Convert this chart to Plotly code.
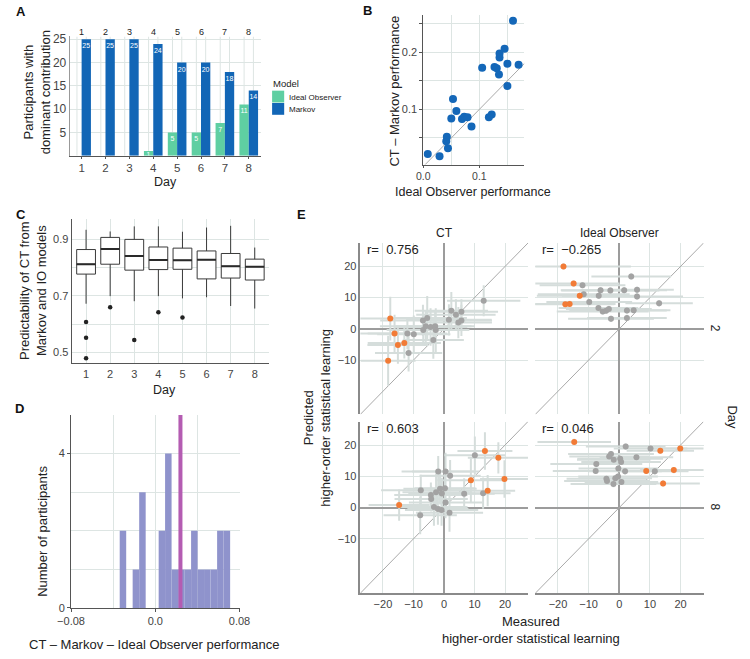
import plotly.graph_objects as go

W, H = 750, 659
FONT = "Liberation Sans, Arial, Helvetica, sans-serif"
GRID = "#dde5e3"
TXT = "#222222"
TICK = "#444444"

# ---------------- Panel A ----------------
days = [1, 2, 3, 4, 5, 6, 7, 8]
io_counts = [0, 0, 0, 1, 5, 5, 7, 11]
markov_counts = [25, 25, 25, 24, 20, 20, 18, 14]
model_names = ["Ideal Observer", "Markov"]
COL_IO = "#5fcfa2"
COL_MK = "#1266b6"

# ---------------- Panel B ----------------
b_io_perf = [0.008, 0.029, 0.044, 0.041, 0.042, 0.053, 0.050, 0.059, 0.069, 0.073,
             0.079, 0.086, 0.105, 0.117, 0.122, 0.127, 0.131, 0.135, 0.136, 0.136,
             0.145, 0.150, 0.150, 0.160, 0.170]
b_ct_markov = [0.022, 0.018, 0.032, 0.044, 0.052, 0.118, 0.084, 0.097, 0.083, 0.087,
               0.086, 0.070, 0.173, 0.086, 0.091, 0.174, 0.172, 0.161, 0.191, 0.198,
               0.206, 0.180, 0.141, 0.255, 0.178]
COL_B = "#1467b8"

# ---------------- Panel C ----------------
c_q1 = [0.777, 0.812, 0.791, 0.793, 0.794, 0.760, 0.763, 0.756]
c_median = [0.812, 0.866, 0.841, 0.827, 0.826, 0.828, 0.805, 0.803]
c_q3 = [0.864, 0.907, 0.900, 0.873, 0.869, 0.859, 0.850, 0.830]
c_lower = [0.672, 0.699, 0.681, 0.699, 0.691, 0.695, 0.664, 0.655]
c_upper = [0.934, 0.928, 0.946, 0.946, 0.927, 0.942, 0.948, 0.871]
c_out_day = [1, 1, 1, 2, 3, 4, 5]
c_out_val = [0.607, 0.552, 0.479, 0.660, 0.544, 0.642, 0.623]

# ---------------- Panel D ----------------
d_bin_centers = [-0.0307, -0.0184, -0.0122, 0.0063, 0.0124, 0.0186, 0.0248,
                 0.0309, 0.0371, 0.0433, 0.0494, 0.0556, 0.0618, 0.0680]
d_counts = [2, 1, 3, 2, 4, 1, 1, 1, 2, 1, 1, 1, 2, 2]
d_binwidth = 0.00617
d_mean = 0.0239
COL_D = "#8f93cc"
COL_MEAN = "#b45cb2"

# ---------------- Panel E ----------------
E_COLS = ["CT", "Ideal Observer"]
E_ROWS = ["2", "8"]
E_R = ["0.756", "\u22120.265", "0.603", "0.046"]
COL_ORANGE = "#f27b36"
COL_GRAY = "#a3a3a3"
COL_ERR = "#d5dddb"

tl_meas = [-17.6, -16.2, -15.1, -13.0, -18.3, -12.0, -9.9, -11.6, -6.9, -5.5, -6.8, -6.0,
           -4.4, -2.9, -2.7, -3.5, 1.6, 2.4, 3.9, 5.7, 4.7, 5.7, 13.0]
tl_pred = [3.3, -1.5, -5.2, -4.5, -10.2, -1.5, -1.7, -7.7, 2.7, 3.5, -0.4, 0.8,
           0.6, 0.8, -0.4, -3.6, 2.9, 5.8, 4.5, 5.5, 2.0, 2.7, 9.0]
tl_err_meas = [11, 12, 10, 12, 9, 13, 12, 11, 14, 13, 12, 15, 12, 13, 11, 10, 14, 12, 13, 12, 11, 10, 12]
tl_err_pred = [7, 6, 6, 5, 8, 5, 6, 6, 5, 7, 5, 5, 6, 5, 7, 6, 5, 6, 5, 4, 5, 5, 5]
tl_flag = [1, 1, 1, 1, 1] + [0] * 18

tr_meas = [-18.2, -14.9, -12.9, -17.6, -16.2, -12.0, -11.6, -6.1, -6.7, -2.9, 1.6, 3.9,
           5.8, 5.8, 13.0, -9.8, -6.8, -5.4, -4.3, -3.4, 2.5, 4.7, -2.7, 2.5]
tr_pred = [20.0, 14.5, 10.6, 7.9, 8.0, 14.0, 11.1, 12.4, 10.6, 12.3, 12.4, 16.8,
           12.5, 10.4, 8.2, 8.6, 6.7, 5.6, 5.8, 6.4, 5.9, 6.0, 3.2, 3.5]
tr_err_meas = [22, 15, 14, 16, 15, 14, 15, 13, 12, 16, 14, 13, 12, 15, 11, 14, 13, 15, 12, 14, 13, 12, 14, 13]
tr_err_pred = [1, 1, 1, 1, 1, 1, 1, 1, 1, 1, 1, 1, 1, 1, 1, 1, 1, 1, 1, 1, 1, 1, 1, 1]
tr_flag = [1, 1, 1, 1, 1] + [0] * 19

bl_meas = [-14.7, 13.4, 17.8, 8.8, 19.8, 14.3, 10.1, -1.9, 0.5, 2.0, -7.6, -4.3, -2.6,
           -1.3, 0.3, -0.7, -4.2, 6.6, 12.8, 0.5, -3.3, -2.0, -0.8, 1.8, -7.8]
bl_pred = [0.8, 18.1, 15.9, 8.7, 9.1, 5.4, 16.7, 11.5, 11.5, 10.2, 5.5, 4.0, 4.9,
           6.0, 6.2, 4.5, 2.7, 4.4, 4.6, 1.6, 0.2, -0.5, -0.8, -1.7, -2.5]
bl_err_meas = [10, 9, 10, 11, 8, 9, 10, 12, 11, 10, 13, 12, 11, 12, 10, 11, 12, 10, 9, 12, 11, 10, 12, 11, 12]
bl_err_pred = [5, 6, 5, 7, 6, 5, 6, 5, 6, 5, 5, 4, 6, 5, 6, 5, 4, 5, 5, 5, 6, 5, 5, 6, 6]
bl_flag = [1, 1, 1, 1, 1, 1] + [0] * 19

br_meas = [-14.7, 13.4, 19.9, 8.8, 17.8, 14.3, 2.1, 10.2, -2.7, -3.3, -1.8, 0.3, 0.6,
           5.6, -7.5, -0.3, -7.7, 1.9, 11.6, -4.2, -4.0, -1.3, -0.4, 0.7, -1.9]
br_pred = [21.0, 18.2, 18.9, 11.7, 12.0, 7.7, 19.5, 18.9, 17.1, 16.3, 15.3, 15.6, 14.6,
           16.1, 13.9, 12.5, 11.7, 11.6, 11.6, 9.2, 8.5, 9.4, 9.9, 8.2, 7.5]
br_err_meas = [12, 11, 10, 13, 11, 12, 13, 12, 14, 13, 12, 14, 13, 12, 15, 13, 14, 12, 11, 13, 14, 12, 13, 12, 14]
br_err_pred = [1, 1, 1, 1, 1, 1, 1, 1, 1, 1, 1, 1, 1, 1, 1, 1, 1, 1, 1, 1, 1, 1, 1, 1, 1]
br_flag = [1, 1, 1, 1, 1, 1] + [0] * 19

E_LIM = [-27.4, 27.5]


def px(x):
    return x / W


def py(y):
    return 1 - y / H


def dxr(a, b):
    return [a / W, b / W]


def dyr(top, bottom):
    return [1 - bottom / H, 1 - top / H]


def note(text, x, y, size=13, angle=0, xanchor="center", color=TXT, **kw):
    d = dict(x=px(x), y=py(y), xref="paper", yref="paper", text=text, showarrow=False,
             textangle=angle, xanchor=xanchor, yanchor="middle",
             font=dict(size=size, color=color))
    d.update(kw)
    return d


fig = go.Figure()
ann = []
shapes = []

# ================= Panel A =================
fig.add_trace(go.Bar(x=days, y=io_counts, width=0.39, offset=-0.39,
                     marker=dict(color=COL_IO, line=dict(width=0)),
                     text=[str(v) if v > 0 else "" for v in io_counts],
                     textposition="inside", insidetextanchor="end", constraintext="none",
                     textfont=dict(color="white", size=7), textangle=0,
                     name=model_names[0], xaxis="x", yaxis="y", showlegend=False))
fig.add_trace(go.Bar(x=days, y=markov_counts, width=0.39, offset=0.0,
                     marker=dict(color=COL_MK, line=dict(width=0)),
                     text=[str(v) for v in markov_counts],
                     textposition="inside", insidetextanchor="end", constraintext="none",
                     textfont=dict(color="white", size=7), textangle=0,
                     name=model_names[1], xaxis="x", yaxis="y", showlegend=False))
for d in days:
    for off in (-0.195, 0.195):
        shapes.append(dict(type="line", xref="x", yref="y", x0=d + off, x1=d + off,
                           y0=0, y1=25.6, line=dict(color=GRID, width=1), layer="below"))
    ann.append(dict(x=d, y=py(28), xref="x", yref="paper", text=str(d), showarrow=False,
                    xanchor="center", yanchor="middle", font=dict(size=9, color=TXT)))

# legend drawn manually
ann.append(note("Model", 266, 80.5, size=9.5, xanchor="left"))
for i, (nm, col) in enumerate(zip(model_names, [COL_IO, COL_MK])):
    y0 = 88 + i * 12.5
    shapes.append(dict(type="rect", xref="paper", yref="paper", x0=px(267), x1=px(279.5),
                       y0=py(y0 + 12), y1=py(y0), fillcolor=col, line=dict(width=0)))
    ann.append(note(nm, 282, y0 + 6.5, size=8, xanchor="left"))

# ================= Panel B =================
fig.add_trace(go.Scatter(x=[0, 0.3], y=[0, 0.3], mode="lines",
                         line=dict(color="#a9a9a9", width=1), xaxis="x2", yaxis="y2",
                         showlegend=False, hoverinfo="skip"))
fig.add_trace(go.Scatter(x=b_io_perf, y=b_ct_markov, mode="markers",
                         marker=dict(color=COL_B, size=8), xaxis="x2", yaxis="y2",
                         showlegend=False))

# ================= Panel C =================
fig.add_trace(go.Box(x=days, q1=c_q1, median=c_median, q3=c_q3, lowerfence=c_lower,
                     upperfence=c_upper, width=0.78, whiskerwidth=0, boxpoints=False,
                     fillcolor="white", line=dict(color="#3a3a3a", width=1),
                     xaxis="x3", yaxis="y3", showlegend=False))
mx, my = [], []
for d, m in zip(days, c_median):
    mx += [d - 0.39, d + 0.39, None]
    my += [m, m, None]
fig.add_trace(go.Scatter(x=mx, y=my, mode="lines", line=dict(color="#2a2a2a", width=2),
                         xaxis="x3", yaxis="y3", showlegend=False, hoverinfo="skip"))
fig.add_trace(go.Scatter(x=c_out_day, y=c_out_val, mode="markers",
                         marker=dict(color="#222222", size=4.5), xaxis="x3", yaxis="y3",
                         showlegend=False))

# ================= Panel D =================
fig.add_trace(go.Bar(x=d_bin_centers, y=d_counts, width=d_binwidth,
                     marker=dict(color=COL_D, line=dict(width=0)),
                     xaxis="x4", yaxis="y4", showlegend=False))
shapes.append(dict(type="line", xref="x4", yref="y4", x0=d_mean, x1=d_mean, y0=0, y1=5,
                   line=dict(color=COL_MEAN, width=4)))

# ================= Panel E =================
panels = [
    (tl_meas, tl_pred, tl_err_meas, tl_err_pred, tl_flag),
    (tr_meas, tr_pred, tr_err_meas, tr_err_pred, tr_flag),
    (bl_meas, bl_pred, bl_err_meas, bl_err_pred, bl_flag),
    (br_meas, br_pred, br_err_meas, br_err_pred, br_flag),
]
for k, (mx_, py_, ex, ey, fl) in enumerate(panels):
    xa, ya = "x%d" % (5 + k), "y%d" % (5 + k)
    fig.add_trace(go.Scatter(x=E_LIM, y=E_LIM, mode="lines",
                             line=dict(color="#a9a9a9", width=1), xaxis=xa, yaxis=ya,
                             showlegend=False, hoverinfo="skip"))
    fig.add_trace(go.Scatter(x=mx_, y=py_, mode="markers", marker=dict(opacity=0),
                             error_x=dict(type="data", array=ex, color=COL_ERR, thickness=2, width=0),
                             error_y=dict(type="data", array=ey, color=COL_ERR, thickness=2, width=0),
                             xaxis=xa, yaxis=ya, showlegend=False, hoverinfo="skip"))
    gx = [a for a, f in zip(mx_, fl) if not f]
    gy = [a for a, f in zip(py_, fl) if not f]
    ox = [a for a, f in zip(mx_, fl) if f]
    oy = [a for a, f in zip(py_, fl) if f]
    fig.add_trace(go.Scatter(x=gx, y=gy, mode="markers", marker=dict(color=COL_GRAY, size=6),
                             xaxis=xa, yaxis=ya, showlegend=False))
    fig.add_trace(go.Scatter(x=ox, y=oy, mode="markers", marker=dict(color=COL_ORANGE, size=6),
                             xaxis=xa, yaxis=ya, showlegend=False))

# ================= Layout / axes =================
tickfont = dict(size=11, color=TICK)
lay = dict(width=W, height=H, margin=dict(l=0, r=0, t=0, b=0),
           paper_bgcolor="white", plot_bgcolor="white",
           font=dict(family=FONT, color=TXT), barmode="overlay", showlegend=False)

# A
lay["xaxis"] = dict(domain=dxr(57.6, 255.2), range=[0.5, 8.5], anchor="y", tickvals=days,
                    showgrid=False, showline=True, linecolor="#555", linewidth=1,
                    ticks="outside", ticklen=2, tickcolor="#555", tickfont=dict(size=11.5, color=TICK),
                    zeroline=False)
lay["yaxis"] = dict(domain=dyr(33, 154), range=[0, 25.6], anchor="x", tickvals=[5, 10, 15, 20, 25],
                    showgrid=True, gridcolor=GRID, showline=True, linecolor="#999", linewidth=1,
                    ticks="", tickfont=dict(size=12, color=TICK), zeroline=False)
# B
lay["xaxis2"] = dict(domain=dxr(423.4, 527.8), range=[0.0, 0.18], anchor="y2", tickvals=[0.0, 0.1],
                     ticktext=["0.0", "0.1"], showgrid=True, gridcolor=GRID,
                     minor=dict(dtick=0.05, tick0=0, showgrid=True, gridcolor=GRID),
                     showline=True, linecolor="#555", ticks="outside", ticklen=2, tickcolor="#555",
                     tickfont=dict(size=10.5, color=TICK), zeroline=False)
lay["yaxis2"] = dict(domain=dyr(11, 163), range=[0.0034, 0.2655], anchor="x2", tickvals=[0.1, 0.2],
                     showgrid=True, gridcolor=GRID,
                     minor=dict(dtick=0.05, tick0=0, showgrid=True, gridcolor=GRID, ticks="outside",
                                ticklen=3, tickcolor="#555"),
                     showline=True, linecolor="#555", ticks="outside", ticklen=3, tickcolor="#555",
                     tickfont=tickfont, zeroline=False)
# C
lay["xaxis3"] = dict(domain=dxr(59.6, 264), range=[0.4, 8.6], anchor="y3", tickvals=days,
                     showgrid=True, gridcolor=GRID, showline=True, linecolor="#555",
                     ticks="", tickfont=tickfont, zeroline=False)
lay["yaxis3"] = dict(domain=dyr(218.3, 365), range=[0.4605, 0.9722], anchor="x3",
                     tickvals=[0.5, 0.7, 0.9], showgrid=True, gridcolor=GRID,
                     minor=dict(tickvals=[0.6, 0.8], showgrid=True, gridcolor=GRID),
                     showline=True, linecolor="#555", ticks="", tickfont=tickfont, zeroline=False)
# D
lay["xaxis4"] = dict(domain=dxr(59, 233.3), range=[-0.08, 0.08], anchor="y4",
                     tickvals=[-0.08, 0.0, 0.08], ticktext=["\u22120.08", "0.0", "0.08"],
                     showgrid=True, gridcolor=GRID,
                     minor=dict(tickvals=[-0.04, 0.04], showgrid=True, gridcolor=GRID),
                     showline=True, linecolor="#555", ticks="outside", ticklen=3, tickcolor="#555",
                     tickfont=tickfont, zeroline=False)
lay["yaxis4"] = dict(domain=dyr(417.3, 613.3), range=[0, 5], anchor="x4", tickvals=[0, 4],
                     showgrid=True, gridcolor=GRID,
                     minor=dict(tickvals=[1, 2, 3], showgrid=True, gridcolor=GRID),
                     showline=True, linecolor="#555", ticks="outside", ticklen=3, tickcolor="#555",
                     tickfont=tickfont, zeroline=False)
# E
e_xdom = [dxr(358.3, 531.7), dxr(539.3, 713.3)]
e_ydom = [dyr(242.7, 416.7), dyr(424, 598.3)]
for k in range(4):
    r, c = divmod(k, 2)
    xn, yn = 5 + k, 5 + k
    lay["xaxis%d" % xn] = dict(domain=e_xdom[c], range=E_LIM, anchor="y%d" % yn,
                               tickvals=[-20, -10, 0, 10, 20],
                               ticktext=["\u221220", "\u221210", "0", "10", "20"],
                               showticklabels=(r == 1), showgrid=True, gridcolor=GRID,
                               zeroline=True, zerolinecolor="#9c9c9c", zerolinewidth=1.5,
                               showline=(r == 1), linecolor="#8a8a8a", linewidth=1.5,
                               ticks="", tickfont=dict(size=11, color=TICK))
    lay["yaxis%d" % yn] = dict(domain=e_ydom[r], range=E_LIM, anchor="x%d" % xn,
                               tickvals=[-10, 0, 10, 20],
                               ticktext=["\u221210", "0", "10", "20"],
                               showticklabels=(c == 0), showgrid=True, gridcolor=GRID,
                               zeroline=True, zerolinecolor="#9c9c9c", zerolinewidth=1.5,
                               showline=(c == 0), linecolor="#8a8a8a", linewidth=1.5,
                               ticks="", tickfont=dict(size=11, color=TICK))
    top = [242.7, 424][r]
    left = [358.3, 539.3][c]
    ann.append(note("r=  " + E_R[k], left + 5, top + 7, xanchor="left"))

for c, name in enumerate(E_COLS):
    ann.append(note(name, [445, 626][c], 233, size=12))
for r, name in enumerate(E_ROWS):
    ann.append(note(name, 725, [329.7, 511.2][r], size=12, angle=90))
ann.append(note("Day", 743, 420, angle=90))

titles = [
    ("Participants with<br>dominant contribution", 23.5, 90, -90, 13),
    ("Day", 157, 181, 0, 12.5),
    ("CT \u2013 Markov performance", 394, 88, -90, 13),
    ("Ideal Observer performance", 475, 191, 0, 12.5),
    ("Predictability of CT from<br>Markov and IO models", 19, 291, -90, 13),
    ("Day", 156, 392, 0, 12.5),
    ("Number of participants", 30, 536, -90, 13),
    ("CT \u2013 Markov \u2013 Ideal Observer performance", 145, 650, 0, 13),
    ("Predicted<br>higher-order statistical learning", 313.5, 420, -90, 13),
    ("Measured<br>higher-order statistical learning", 535, 636, 0, 13),
]
for t, x, y, ang, sz in titles:
    ann.append(note(t, x, y, size=sz, angle=ang))

for lab, x, y in [("A", 7.5, 7.5), ("B", 366, 7), ("C", 7, 214), ("D", 6, 411), ("E", 297, 214)]:
    ann.append(note("<b>%s</b>" % lab, x, y, color="#111"))

lay["annotations"] = ann
lay["shapes"] = shapes
fig.update_layout(**lay)
fig.write_html("out.html", config={"displayModeBar": False},
               post_script="document.body.style.margin='0px';")
